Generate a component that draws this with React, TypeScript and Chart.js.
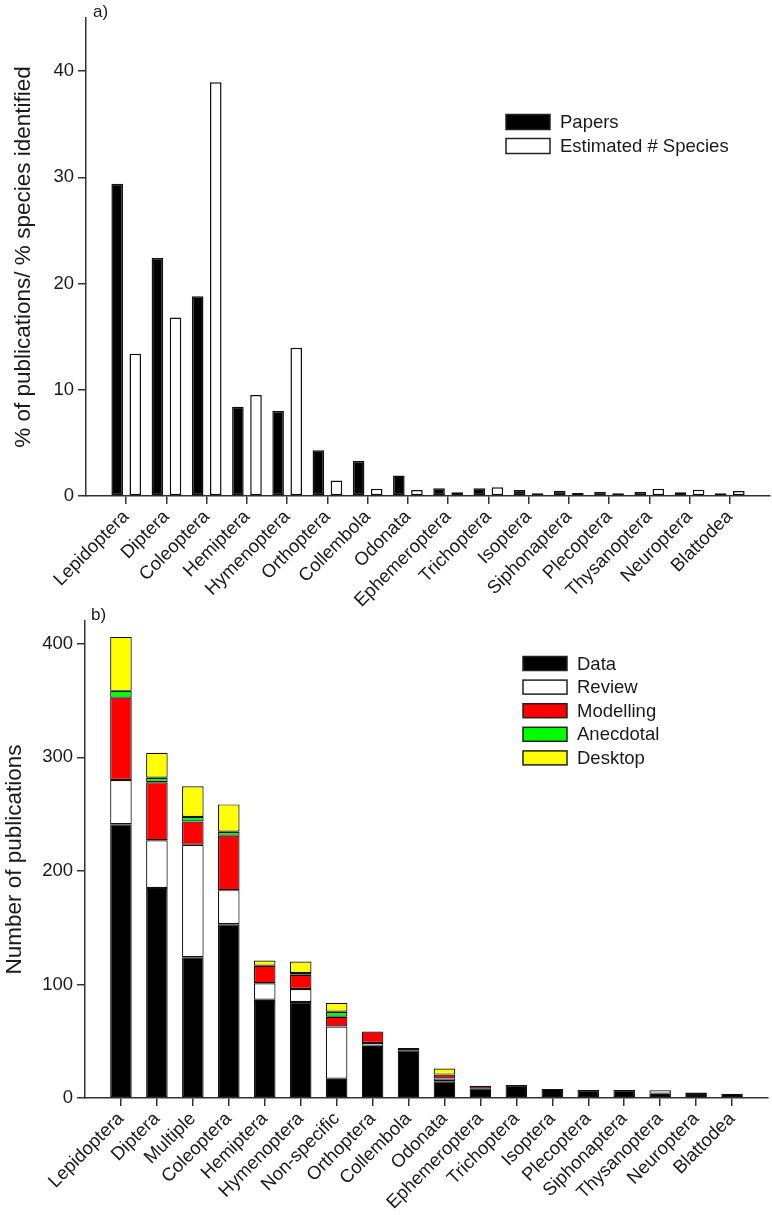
import React, { useEffect, useRef } from 'react';
import { Chart, registerables } from 'chart.js';
Chart.register(...registerables);

// ---------- Panel a data ----------
const ordersA = ['Lepidoptera', 'Diptera', 'Coleoptera', 'Hemiptera', 'Hymenoptera', 'Orthoptera', 'Collembola', 'Odonata', 'Ephemeroptera', 'Trichoptera', 'Isoptera', 'Siphonaptera', 'Plecoptera', 'Thysanoptera', 'Neuroptera', 'Blattodea'];
const papersPct = [29.4, 22.4, 18.8, 8.4, 8.0, 4.3, 3.3, 1.93, 0.72, 0.72, 0.56, 0.5, 0.4, 0.4, 0.35, 0.25];
const speciesPct = [13.4, 16.8, 38.95, 9.5, 13.95, 1.47, 0.69, 0.57, 0.35, 0.82, 0.25, 0.28, 0.25, 0.69, 0.59, 0.47];
const yTicksA = [0, 10, 20, 30, 40];

// ---------- Panel b data ----------
const ordersB = ['Lepidoptera', 'Diptera', 'Multiple', 'Coleoptera', 'Hemiptera', 'Hymenoptera', 'Non-specific', 'Orthoptera', 'Collembola', 'Odonata', 'Ephemeroptera', 'Trichoptera', 'Isoptera', 'Plecoptera', 'Siphonaptera', 'Thysanoptera', 'Neuroptera', 'Blattodea'];
const dataPubs = [241, 185, 124, 153, 86.5, 84.5, 17, 46, 42, 14.7, 8.5, 11.5, 8, 7, 7, 3.7, 2.7, 3.7];
const reviewPubs = [39, 42, 99, 30, 14.5, 11.5, 46, 2.5, 2, 2.5, 0, 0, 0, 0, 0, 3.1, 0, 0];
const modellingPubs = [72.5, 51, 20.5, 48, 15.5, 12.5, 8.5, 10, 0, 3.4, 2.2, 0, 0, 0, 0, 0, 2.1, 0];
const anecdotalPubs = [6, 4, 4, 3.5, 0, 1.6, 4.4, 0, 0, 0, 0, 0, 0, 0, 0, 0, 0, 0];
const desktopPubs = [47.5, 22, 27, 24, 4.5, 10, 8, 0, 0, 5.3, 0, 0, 0, 0, 0, 0, 0, 0];
const yTicksB = [0, 100, 200, 300, 400];

const FONT = '"Liberation Sans", Arial, sans-serif';
const TEXT = '#1a1a1a';
const AXIS = '#333333';

const padArr = (a: number[]) => [null, ...a.map((v) => (v === 0 ? null : v)), null];
const padLabels = (a: string[]) => ['', ...a, ''];

const decorPlugin = {
  id: 'decor',
  afterDraw(chart: any, _args: any, opts: any) {
    const ctx = chart.ctx;
    const ca = chart.chartArea;
    ctx.save();
    ctx.fillStyle = TEXT;
    ctx.font = `17px ${FONT}`;
    ctx.textAlign = 'left';
    ctx.textBaseline = 'alphabetic';
    ctx.fillText(opts.panel, opts.panelX, opts.panelY);

    ctx.save();
    ctx.translate(opts.titleX, (ca.top + ca.bottom) / 2);
    ctx.rotate(-Math.PI / 2);
    ctx.font = `22.5px ${FONT}`;
    ctx.textAlign = 'center';
    ctx.textBaseline = 'alphabetic';
    ctx.fillText(opts.yTitle, 0, 0);
    ctx.restore();

    chart.data.datasets.forEach((ds: any, i: number) => {
      const cy = opts.legendY + i * opts.legendGap;
      const bx = opts.legendX;
      const bh = opts.boxH;
      ctx.fillStyle = ds.backgroundColor;
      ctx.fillRect(bx, cy - bh / 2, 44, bh);
      ctx.strokeStyle = '#222';
      ctx.lineWidth = 1.5;
      ctx.strokeRect(bx, cy - bh / 2, 44, bh);
      ctx.fillStyle = TEXT;
      ctx.font = `18.5px ${FONT}`;
      ctx.textAlign = 'left';
      ctx.textBaseline = 'middle';
      ctx.fillText(ds.label, bx + 54, cy + 1);
    });
    ctx.restore();
  },
};

function axisCommon(n: number, xHeight: number) {
  return {
    type: 'category',
    offset: false,
    grid: { display: true, offset: false, drawOnChartArea: false, drawTicks: true, tickLength: 8, color: AXIS, lineWidth: 1.5 },
    border: { display: true, color: AXIS, width: 1.5 },
    ticks: { autoSkip: false, minRotation: 45, maxRotation: 45, color: TEXT, font: { family: FONT, size: 18.5 }, padding: 2 },
    afterBuildTicks: (axis: any) => {
      axis.ticks = axis.ticks.filter((t: any) => t.value >= 1 && t.value <= n);
    },
    afterFit: (scale: any) => {
      scale.height = xHeight;
    },
  };
}

function yCommon(max: number, step: number, allowed: number[], width: number) {
  return {
    type: 'linear',
    min: 0,
    max,
    grid: { display: true, drawOnChartArea: false, drawTicks: true, tickLength: 8, color: AXIS, lineWidth: 1.5 },
    border: { display: true, color: AXIS, width: 1.5 },
    ticks: { stepSize: step, color: TEXT, font: { family: FONT, size: 18.5 }, padding: 4 },
    afterBuildTicks: (axis: any) => {
      axis.ticks = axis.ticks.filter((t: any) => allowed.includes(t.value));
    },
    afterFit: (scale: any) => {
      scale.width = width;
    },
  };
}

function PanelA() {
  const ref = useRef<HTMLCanvasElement>(null);
  useEffect(() => {
    if (!ref.current) return;
    const chart = new Chart(ref.current, {
      type: 'bar',
      data: {
        labels: padLabels(ordersA),
        datasets: [
          { label: 'Papers', data: padArr(papersPct), backgroundColor: '#000000', borderColor: '#111', borderWidth: 1.5, borderSkipped: false, categoryPercentage: 0.9, barPercentage: 0.64 },
          { label: 'Estimated # Species', data: padArr(speciesPct), backgroundColor: '#ffffff', borderColor: '#111', borderWidth: 1.5, borderSkipped: false, categoryPercentage: 0.9, barPercentage: 0.64 },
        ] as any,
      },
      options: {
        responsive: false,
        animation: false,
        layout: { padding: { top: 18, left: 0, right: 2, bottom: 0 } },
        plugins: {
          legend: { display: false },
          tooltip: { enabled: false },
          decor: { panel: 'a)', panelX: 93, panelY: 17, yTitle: '% of publications/ % species identified', titleX: 29.5, legendX: 506, legendY: 122, legendGap: 24, boxH: 15 },
        } as any,
        scales: {
          x: axisCommon(ordersA.length, 124) as any,
          y: yCommon(45, 10, yTicksA, 86) as any,
        },
      },
      plugins: [decorPlugin as any],
    });
    return () => chart.destroy();
  }, []);
  return <canvas ref={ref} width={772} height={620} style={{ position: 'absolute', left: 0, top: 0, width: 772, height: 620 }} />;
}

function PanelB() {
  const ref = useRef<HTMLCanvasElement>(null);
  useEffect(() => {
    if (!ref.current) return;
    const seg = { borderColor: '#111', borderWidth: 1.2, borderSkipped: false, categoryPercentage: 1, barPercentage: 0.6 };
    const chart = new Chart(ref.current, {
      type: 'bar',
      data: {
        labels: padLabels(ordersB),
        datasets: [
          { label: 'Data', data: padArr(dataPubs), backgroundColor: '#000000', ...seg },
          { label: 'Review', data: padArr(reviewPubs), backgroundColor: '#ffffff', ...seg },
          { label: 'Modelling', data: padArr(modellingPubs), backgroundColor: '#ff0000', ...seg },
          { label: 'Anecdotal', data: padArr(anecdotalPubs), backgroundColor: '#00ff00', ...seg },
          { label: 'Desktop', data: padArr(desktopPubs), backgroundColor: '#ffff00', ...seg },
        ] as any,
      },
      options: {
        responsive: false,
        animation: false,
        layout: { padding: { top: 21, left: 0, right: 4, bottom: 0 } },
        plugins: {
          legend: { display: false },
          tooltip: { enabled: false },
          decor: { panel: 'b)', panelX: 91, panelY: 20, yTitle: 'Number of publications', titleX: 21, legendX: 523, legendY: 63.5, legendGap: 23.6, boxH: 14 },
        } as any,
        scales: {
          x: { ...(axisCommon(ordersB.length, 117) as any), stacked: true },
          y: { ...(yCommon(420, 100, yTicksB, 85) as any), stacked: true },
        },
      },
      plugins: [decorPlugin as any],
    });
    return () => chart.destroy();
  }, []);
  return <canvas ref={ref} width={772} height={615} style={{ position: 'absolute', left: 0, top: 600, width: 772, height: 615 }} />;
}

export default function App() {
  return (
    <div style={{ position: 'absolute', left: 0, top: 0, width: 772, height: 1215, background: '#ffffff' }}>
      <PanelA />
      <PanelB />
    </div>
  );
}
